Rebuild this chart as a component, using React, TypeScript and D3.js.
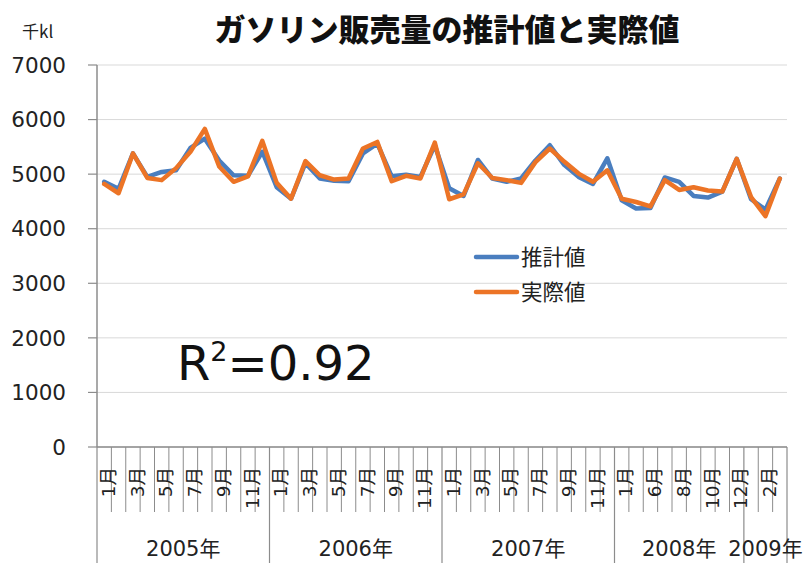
import React from 'react';
import * as d3 from 'd3';

// category structure (year groups and the months shown in each)
const years = ['2005年', '2006年', '2007年', '2008年', '2009年'];
const monthsByYear = [
  [1, 2, 3, 4, 5, 6, 7, 8, 9, 10, 11, 12],
  [1, 2, 3, 4, 5, 6, 7, 8, 9, 10, 11, 12],
  [1, 2, 3, 4, 5, 6, 7, 8, 9, 10, 11, 12],
  [1, 5, 6, 7, 8, 9, 10, 11, 12],
  [1, 2, 3],
];

// 推計値 (estimated), 千kl
const estimated = [
  4860, 4730, 5380, 4950, 5040, 5070, 5480, 5650, 5250, 4980, 4970, 5410,
  4760, 4550, 5200, 4920, 4880, 4870, 5380, 5560, 4960, 4990, 4950, 5530,
  4740, 4600, 5260, 4920, 4860, 4920, 5250, 5530, 5170, 4950, 4820, 5290,
  4520, 4370, 4380, 4940, 4860, 4600, 4570, 4680, 5280,
  4540, 4350, 4920,
];

// 実際値 (actual), 千kl
const actual = [
  4820, 4650, 5380, 4930, 4890, 5110, 5410, 5830, 5140, 4860, 4960, 5610,
  4840, 4550, 5240, 4980, 4900, 4920, 5470, 5590, 4870, 4970, 4920, 5580,
  4540, 4630, 5200, 4930, 4890, 4840, 5220, 5470, 5230, 5010, 4860, 5070,
  4550, 4490, 4410, 4890, 4710, 4760, 4700, 4680, 5280,
  4580, 4230, 4920,
];

const yTicks = [0, 1000, 2000, 3000, 4000, 5000, 6000, 7000];

const W = 803;
const H = 563;
const left = 97;
const right = 787;
const top = 65;
const bottom = 447;

const BLUE = '#4a7ebf';
const ORANGE = '#ec7426';
const NUM_FONT = '"DejaVu Sans", "Noto Sans CJK JP", sans-serif';
const JP_FONT = '"Noto Sans CJK JP", sans-serif';

const App = () => {
  // flatten categories
  const cats: { year: number; month: number; idx: number }[] = [];
  monthsByYear.forEach((ms, yi) => ms.forEach(m => cats.push({ year: yi, month: m, idx: cats.length })));

  const x = d3.scaleBand<number>()
    .domain(cats.map(c => c.idx))
    .range([left, right])
    .padding(0);
  const bw = x.bandwidth();
  const cx = (i: number) => (x(i) as number) + bw / 2;

  const y = d3.scaleLinear().domain([0, 7000]).range([bottom, top]);

  const line = d3.line<number>()
    .x((_, i) => cx(i))
    .y(d => y(d));

  // year group boundaries
  const groups: { name: string; start: number; end: number }[] = [];
  let s = 0;
  monthsByYear.forEach((ms, yi) => {
    groups.push({ name: years[yi], start: s, end: s + ms.length });
    s += ms.length;
  });

  const edge = (i: number) => (i >= cats.length ? right : (x(i) as number));

  return (
    <div style={{ position: 'fixed', left: 0, top: 0 }}>
      <svg width={W} height={H} style={{ display: 'block', background: '#fff' }}>
        {/* title */}
        <text x={447} y={41} textAnchor="middle" fontFamily={JP_FONT} fontWeight={900}
          fontSize={31} fill="#111">ガソリン販売量の推計値と実際値</text>
        <text x={22} y={38} fontFamily={JP_FONT} fontSize={17} fill="#222">千kl</text>

        {/* gridlines */}
        {yTicks.map(t => (
          <line key={'g' + t} x1={left} x2={right} y1={y(t)} y2={y(t)} stroke="#d9d9d9" strokeWidth={1} />
        ))}

        {/* y axis */}
        <line x1={left} x2={left} y1={top} y2={bottom} stroke="#8c8c8c" strokeWidth={1.5} />
        {yTicks.map(t => (
          <g key={'y' + t}>
            <line x1={left - 9} x2={left} y1={y(t)} y2={y(t)} stroke="#8c8c8c" strokeWidth={1.2} />
            <text x={66} y={y(t)} dy="0.36em" textAnchor="end" fontFamily={NUM_FONT}
              fontSize={21.5} fill="#222">{t}</text>
          </g>
        ))}

        {/* x axis */}
        <line x1={left} x2={right} y1={bottom} y2={bottom} stroke="#8c8c8c" strokeWidth={1.5} />
        {cats.map(c => c.idx > 0 && !groups.some(g => g.start === c.idx) ? (
          <line key={'t' + c.idx} x1={edge(c.idx)} x2={edge(c.idx)} y1={bottom} y2={512}
            stroke="#8c8c8c" strokeWidth={1} />
        ) : null)}
        {groups.map(g => (
          <line key={'gb' + g.start} x1={edge(g.start)} x2={edge(g.start)} y1={bottom} y2={H}
            stroke="#8c8c8c" strokeWidth={1.2} />
        ))}
        <line x1={right} x2={right} y1={bottom} y2={H} stroke="#8c8c8c" strokeWidth={1.2} />

        {/* month labels */}
        {cats.filter(c => c.idx % 2 === 0).map(c => (
          <text key={'m' + c.idx} transform={`translate(${cx(c.idx) + 4},${467}) rotate(-90)`}
            textAnchor="end" dy="0.36em" fontFamily={NUM_FONT} fontSize={18.5} fill="#222">
            {c.month + '月'}
          </text>
        ))}

        {/* year labels */}
        {groups.map(g => (
          <text key={'yl' + g.name} x={(edge(g.start) + edge(g.end)) / 2} y={556}
            textAnchor="middle" fontFamily={NUM_FONT} fontSize={21} fill="#222">{g.name}</text>
        ))}

        {/* series */}
        <path d={line(estimated) || ''} fill="none" stroke={BLUE} strokeWidth={4.5}
          strokeLinejoin="round" strokeLinecap="round" />
        <path d={line(actual) || ''} fill="none" stroke={ORANGE} strokeWidth={4.5}
          strokeLinejoin="round" strokeLinecap="round" />

        {/* legend */}
        <line x1={476} x2={517} y1={257} y2={257} stroke={BLUE} strokeWidth={4.5} strokeLinecap="round" />
        <text x={521} y={257} dy="0.36em" fontFamily={JP_FONT} fontSize={21.5} fill="#222">推計値</text>
        <line x1={476} x2={517} y1={292} y2={292} stroke={ORANGE} strokeWidth={4.5} strokeLinecap="round" />
        <text x={521} y={292} dy="0.36em" fontFamily={JP_FONT} fontSize={21.5} fill="#222">実際値</text>

        {/* R squared */}
        <text x={177} y={380} fontFamily={NUM_FONT} fontSize={48} fill="#111">
          R<tspan fontSize={27} dy={-19}>2</tspan><tspan dy={19}>=0.92</tspan>
        </text>
      </svg>
    </div>
  );
};

export default App;
